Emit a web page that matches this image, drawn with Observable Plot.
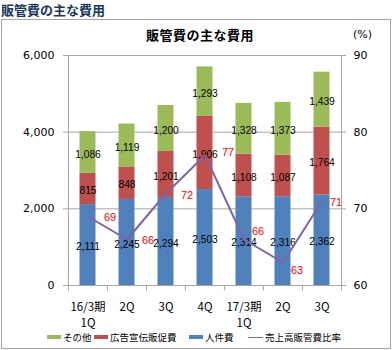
<!DOCTYPE html>
<html>
<head>
<meta charset="utf-8">
<script src="https://cdn.jsdelivr.net/npm/d3@7"></script>
<script src="https://cdn.jsdelivr.net/npm/@observablehq/plot@0.6"></script>
<style>
  html, body { margin: 0; padding: 0; background: #fff; }
  #wrap { position: relative; width: 392px; height: 350px; overflow: hidden; font-family: "Noto Sans CJK JP", sans-serif; }
  #pageTitle { position: absolute; left: 1px; top: 3px; line-height: 14px; font-size: 13px; font-weight: bold; color: #17375E; white-space: nowrap; }
  #frame { position: absolute; left: 1px; top: 19px; width: 388px; height: 328px; border: 1px solid #A6A6A6; }
  #chartTitle { position: absolute; left: 0; width: 400px; top: 25px; text-align: center; font-size: 13px; font-weight: bold; color: #000; letter-spacing: 0.5px; }
  #pct { position: absolute; left: 353px; top: 28px; font-size: 11px; color: #000; font-family: "DejaVu Sans", sans-serif; }
  #chart { position: absolute; left: 0; top: 40px; }
  #legend { position: absolute; left: 0; top: 330px; width: 392px; height: 14px; font-size: 9.5px; color: #000; }
  .li { position: absolute; top: 0; white-space: nowrap; line-height: 14px; }
  .sw { display: inline-block; width: 14px; height: 4px; vertical-align: middle; margin-right: 2px; position: relative; top: -1px; }
  .ln { display: inline-block; width: 15px; height: 1.5px; vertical-align: middle; margin-right: 2px; position: relative; top: -1px; }
</style>
</head>
<body>
<div id="wrap">
  <div id="pageTitle">販管費の主な費用</div>
  <div id="frame"></div>
  <div id="chartTitle">販管費の主な費用</div>
  <div id="pct">(%)</div>
  <div id="chart"></div>
  <div id="legend"></div>
</div>
<script>
const categories = ["16/3期\n1Q", "2Q", "3Q", "4Q", "17/3期\n1Q", "2Q ", "3Q "];
const seriesNames = ["人件費", "広告宣伝販促費", "その他"];
const personnel = [2111, 2245, 2294, 2503, 2314, 2316, 2362];
const advertising = [815, 848, 1201, 1906, 1108, 1087, 1764];
const other = [1086, 1119, 1200, 1293, 1328, 1373, 1439];
const ratio = [69, 66, 72, 77, 66, 63, 71];
const ratioLabel = "売上高販管費比率";
const leftTicks = [0, 2000, 4000, 6000];
const rightTicks = [60, 70, 80, 90];
const colors = { "人件費": "#4F81BD", "広告宣伝販促費": "#C0504D", "その他": "#9BBB59" };
const lineColor = "#8064A2";
// label placement offsets (style) for ratio labels, [dx, dy] in pixels
const ratioLabelOffsets = [[22, 1], [21, 1], [21, 2], [23, -3], [14, -8], [14, 8], [14, 1]];

// build long table with stacking midpoints
const seriesValues = [personnel, advertising, other];
const rows = [];
categories.forEach((c, i) => {
  let base = 0;
  seriesNames.forEach((s, k) => {
    const v = seriesValues[k][i];
    rows.push({cat: c, series: s, value: v, y1: base, y2: base + v, mid: base + v / 2});
    base += v;
  });
});
const lineRows = categories.map((c, i) => ({cat: c, r: ratio[i], i}));

// right axis (60-90%) mapped onto left domain (0-6000)
const toLeft = r => (r - rightTicks[0]) / (rightTicks[rightTicks.length - 1] - rightTicks[0]) * leftTicks[leftTicks.length - 1];

const W = 392, H = 290;
const mL = 67, mR = 51;
const step = (W - mL - mR) / categories.length;
const gray = "#A6A6A6";
const fmt = d3.format(",");

const ratioTextMarks = lineRows.map(d => Plot.text([d], {
  x: "cat", y: e => toLeft(e.r), text: e => String(e.r),
  dx: ratioLabelOffsets[d.i][0], dy: ratioLabelOffsets[d.i][1],
  fill: "#FF0000", fontSize: 11, fontFamily: "Liberation Sans, Arial, sans-serif"
}));

const catFont = "Noto Sans CJK JP, DejaVu Sans, sans-serif";

const plot = Plot.plot({
  width: W,
  height: H,
  marginLeft: mL,
  marginRight: mR,
  marginTop: 15,
  marginBottom: 45,
  style: { fontFamily: "DejaVu Sans, sans-serif", background: "transparent", overflow: "visible" },
  x: { domain: categories, padding: 0, axis: null },
  y: { domain: [0, 6000] },
  marks: [
    Plot.ruleY(leftTicks.slice(1), { stroke: gray, strokeWidth: 1 }),
    Plot.barY(rows, {
      x: "cat", y1: "y1", y2: "y2",
      fill: d => colors[d.series],
      insetLeft: 11.5, insetRight: 11.5
    }),
    Plot.ruleY([0], { stroke: gray }),
    Plot.ruleX([categories[0]], { dx: -step / 2, y1: 0, y2: 6000, stroke: gray }),
    Plot.ruleX([categories[categories.length - 1]], { dx: step / 2, y1: 0, y2: 6000, stroke: gray }),
    // boundary ticks on x axis
    Plot.ruleX(categories, { x: d => d, dx: -step / 2, y1: 0, y2: -140, stroke: gray }),
    Plot.ruleX([categories[categories.length - 1]], { dx: step / 2, y1: 0, y2: -140, stroke: gray }),
    Plot.text(rows, {
      x: "cat", y: "mid", text: d => fmt(d.value), dy: 2,
      fill: "#000", fontSize: 10.2, fontFamily: "Liberation Sans, Arial, sans-serif"
    }),
    Plot.line(lineRows, { x: "cat", y: d => toLeft(d.r), stroke: lineColor, strokeWidth: 2 }),
    ...ratioTextMarks,
    Plot.axisY({
      anchor: "left", ticks: leftTicks, tickFormat: fmt, tickSize: 4, tickPadding: 9,
      stroke: gray, fontSize: 11, label: null, fill: "#000"
    }),
    Plot.axisY({
      anchor: "right", ticks: leftTicks, tickFormat: d => String(rightTicks[0] + d / toLeft(rightTicks[0] + 1)),
      tickSize: 4, tickPadding: 8, stroke: gray, fontSize: 11, label: null, fill: "#000"
    }),
    // category labels, first line
    Plot.text(categories, {
      x: d => d, y: () => 0, text: d => d.trim().split("\n")[0],
      lineAnchor: "middle", dy: 22, fontSize: 11.5, fontFamily: catFont, fill: "#000"
    }),
    // category labels, second line
    Plot.text(categories.filter(d => d.includes("\n")), {
      x: d => d, y: () => 0, text: d => d.split("\n")[1],
      lineAnchor: "middle", dy: 38, fontSize: 11.5, fontFamily: catFont, fill: "#000"
    })
  ]
});
document.getElementById("chart").appendChild(plot);

// legend: in Excel order (reverse stacking) + line
const legend = document.getElementById("legend");
const items = [
  { label: seriesNames[2], color: colors[seriesNames[2]], type: "sw", left: 47 },
  { label: seriesNames[1], color: colors[seriesNames[1]], type: "sw", left: 94 },
  { label: seriesNames[0], color: colors[seriesNames[0]], type: "sw", left: 189 },
  { label: ratioLabel, color: lineColor, type: "ln", left: 248 }
];
items.forEach(it => {
  const d = document.createElement("div");
  d.className = "li";
  d.style.left = it.left + "px";
  const s = document.createElement("span");
  s.className = it.type;
  s.style.background = it.color;
  d.appendChild(s);
  d.appendChild(document.createTextNode(it.label));
  legend.appendChild(d);
});
</script>
</body>
</html>
